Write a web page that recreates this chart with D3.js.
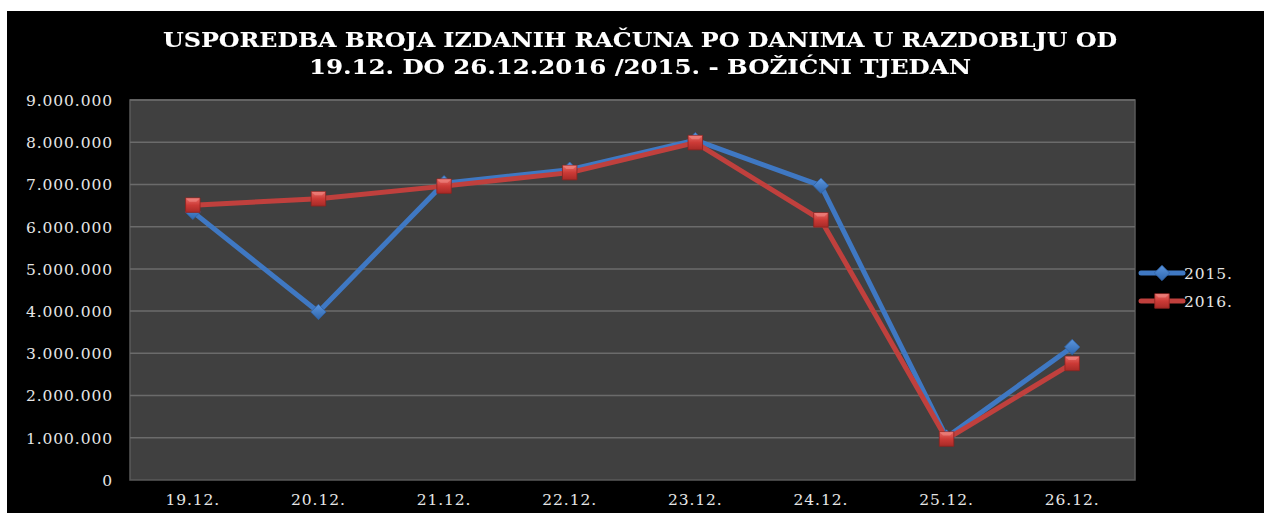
<!DOCTYPE html>
<html>
<head>
<meta charset="utf-8">
<script src="https://cdn.jsdelivr.net/npm/d3@7"></script>
<style>
  body { margin: 0; background: #fff; }
  svg { display: block; }
</style>
</head>
<body>
<svg id="chart"></svg>
<script>
const width = 1264, height = 513;
const margin = { top: 100, right: 129, bottom: 33, left: 130 };
const plotWidth = width - margin.left - margin.right;
const plotHeight = height - margin.top - margin.bottom;

// Data
const days = ["19.12.", "20.12.", "21.12.", "22.12.", "23.12.", "24.12.", "25.12.", "26.12."];
const values2015 = [6350000, 3980000, 7030000, 7350000, 8050000, 6970000, 1010000, 3150000];
const values2016 = [6510000, 6660000, 6960000, 7280000, 7990000, 6160000, 970000, 2760000];
const yTicks = [0, 1000000, 2000000, 3000000, 4000000, 5000000, 6000000, 7000000, 8000000, 9000000];
const titleLines = [
  "USPOREDBA BROJA IZDANIH RAČUNA PO DANIMA U RAZDOBLJU OD",
  "19.12. DO 26.12.2016 /2015. - BOŽIĆNI TJEDAN"
];
const seriesNames = ["2015.", "2016."];

const series = [
  { name: seriesNames[0], values: values2015, color: "#3f78c3", marker: "diamond" },
  { name: seriesNames[1], values: values2016, color: "#c0403d", marker: "square" }
];

const svg = d3.select("#chart")
  .attr("width", width)
  .attr("height", height)
  .attr("viewBox", [0, 0, width, height]);

const defs = svg.append("defs");
const redGrad = defs.append("linearGradient").attr("id", "redGrad")
  .attr("x1", 0).attr("y1", 0).attr("x2", 0).attr("y2", 1);
redGrad.append("stop").attr("offset", "0%").attr("stop-color", "#e86a66");
redGrad.append("stop").attr("offset", "50%").attr("stop-color", "#cc3a36");
redGrad.append("stop").attr("offset", "100%").attr("stop-color", "#a82a27");
const blueGrad = defs.append("linearGradient").attr("id", "blueGrad")
  .attr("x1", 0).attr("y1", 0).attr("x2", 0).attr("y2", 1);
blueGrad.append("stop").attr("offset", "0%").attr("stop-color", "#5a95de");
blueGrad.append("stop").attr("offset", "100%").attr("stop-color", "#2f66ad");
const shadow = defs.append("filter").attr("id", "txtShadow")
  .attr("x", "-5%").attr("y", "-20%").attr("width", "110%").attr("height", "160%");
shadow.append("feDropShadow").attr("dx", 1.5).attr("dy", 1.5).attr("stdDeviation", 0.8)
  .attr("flood-color", "#000").attr("flood-opacity", 0.9);

// Black chart area
svg.append("rect")
  .attr("x", 7).attr("y", 11)
  .attr("width", width - 7).attr("height", height - 11)
  .attr("fill", "#000");

// Title
svg.append("g")
  .selectAll("text")
  .data(titleLines)
  .join("text")
  .attr("x", 640)
  .attr("y", (d, i) => 47 + i * 27)
  .attr("text-anchor", "middle")
  .attr("font-family", "'DejaVu Serif', serif")
  .attr("font-weight", "bold")
  .attr("font-size", 20)
  .attr("fill", "#fff")
  .attr("textLength", (d, i) => i === 0 ? 954 : 662)
  .attr("lengthAdjust", "spacingAndGlyphs")
  .attr("filter", "url(#txtShadow)")
  .text(d => d);

const g = svg.append("g")
  .attr("transform", `translate(${margin.left},${margin.top})`);

// Scales
const xScale = d3.scaleBand().domain(days).range([0, plotWidth]);
const yScale = d3.scaleLinear().domain([0, 9000000]).range([plotHeight, 0]);

// Plot background
g.append("rect")
  .attr("width", plotWidth)
  .attr("height", plotHeight)
  .attr("fill", "#404040")
  .attr("stroke", "#5a5a5a")
  .attr("stroke-width", 1.5);

// Gridlines
g.append("g")
  .selectAll("line")
  .data(yTicks.filter(d => d > 0))
  .join("line")
  .attr("x1", 0)
  .attr("x2", plotWidth)
  .attr("y1", d => yScale(d))
  .attr("y2", d => yScale(d))
  .attr("stroke", "#6b6b6b")
  .attr("stroke-width", 1.5);

const fmt = d => d === 0 ? "0" : d3.format(",")(d).replace(/,/g, ".");

// Y axis
const yAxis = g.append("g")
  .call(d3.axisLeft(yScale).tickValues(yTicks).tickFormat(fmt).tickSize(0).tickPadding(17));
yAxis.select(".domain").remove();
yAxis.selectAll("text")
  .attr("font-family", "'DejaVu Serif', serif")
  .attr("font-size", 15.5)
  .attr("letter-spacing", 0.9)
  .attr("fill", "#e6e6e6")
  .attr("dy", "0.35em");

// X axis
const xAxis = g.append("g")
  .attr("transform", `translate(0,${plotHeight})`)
  .call(d3.axisBottom(xScale).tickSize(0).tickPadding(14));
xAxis.select(".domain").remove();
xAxis.selectAll("text")
  .attr("font-family", "'DejaVu Serif', serif")
  .attr("font-size", 15.5)
  .attr("letter-spacing", 0.9)
  .attr("fill", "#e6e6e6");

// Lines
const line = d3.line()
  .x((d, i) => xScale(days[i]) + xScale.bandwidth() / 2)
  .y(d => yScale(d));

const diamond = d3.symbol().type(d3.symbolDiamond2).size(150);
const square = d3.symbol().type(d3.symbolSquare).size(210);

function drawMarker(sel, s) {
  if (s.marker === "diamond") {
    sel.append("path").attr("d", diamond()).attr("fill", "url(#blueGrad)")
      .attr("stroke", "#2f62a6").attr("stroke-width", 0.8);
  } else {
    sel.append("path").attr("d", square()).attr("fill", "url(#redGrad)")
      .attr("stroke", "#8e2320").attr("stroke-width", 0.8);
    sel.append("path").attr("d", "M-7,-7L7,-7L3.5,-3.5L-3.5,-3.5Z")
      .attr("fill", "#f08a86").attr("opacity", 0.6);
  }
}

series.forEach(s => {
  g.append("path")
    .datum(s.values)
    .attr("fill", "none")
    .attr("stroke", s.color)
    .attr("stroke-width", 5)
    .attr("stroke-linejoin", "round")
    .attr("d", line);
});

series.forEach(s => {
  g.append("g")
    .selectAll("g")
    .data(s.values)
    .join("g")
    .attr("transform", (d, i) => `translate(${xScale(days[i]) + xScale.bandwidth() / 2},${yScale(d)})`)
    .each(function () { drawMarker(d3.select(this), s); });
});

// Legend
const legend = svg.append("g").attr("transform", "translate(1141,273)");
series.forEach((s, i) => {
  const item = legend.append("g").attr("transform", `translate(0,${i * 28})`);
  item.append("line").attr("x1", 0).attr("x2", 42)
    .attr("stroke", s.color).attr("stroke-width", 5).attr("stroke-linecap", "round");
  const m = item.append("g").attr("transform", "translate(21,0)");
  drawMarker(m, s);
  item.append("text")
    .attr("x", 43).attr("y", 0).attr("dy", "0.36em")
    .attr("font-family", "'DejaVu Serif', serif")
    .attr("font-size", 15.5)
    .attr("letter-spacing", 0.9)
    .attr("fill", "#e6e6e6")
    .text(s.name);
});
</script>
</body>
</html>
